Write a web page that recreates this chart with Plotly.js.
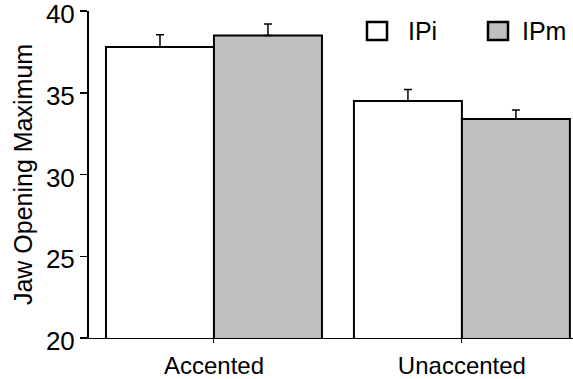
<!DOCTYPE html>
<html>
<head>
<meta charset="utf-8">
<script src="https://cdn.plot.ly/plotly-3.0.1.min.js"></script>
<style>html,body{margin:0;padding:0;background:#fff;}#chart{width:573px;height:379px;}</style>
</head>
<body>
<div id="chart"></div>
<script>
const categories = ["Accented", "Unaccented"];
const seriesNames = ["IPi", "IPm"];
const ipiValues = [37.8, 34.5];
const ipiErrors = [0.75, 0.7];
const ipmValues = [38.5, 33.4];
const ipmErrors = [0.7, 0.55];
const yTickVals = [20, 25, 30, 35, 40];

const fam = "Liberation Sans, Arial, sans-serif";
const font = {family: fam, size: 24, color: "#000"};
const yFont = {family: fam, size: 26, color: "#000"};
const titleFont = {family: fam, size: 25, color: "#000"};
const legFont = {family: fam, size: 25, color: "#000"};
const fills = ["#ffffff", "#c0c0c0"];

function barTrace(name, y, err, fill) {
  return {
    type: "bar", name: name, x: categories, y: y,
    marker: {color: fill, line: {color: "#000", width: 2}},
    error_y: {type: "data", symmetric: false, array: err, arrayminus: err.map(() => 0),
              color: "#000", thickness: 1.5, width: 4},
    showlegend: false
  };
}

const data = [
  barTrace(seriesNames[0], ipiValues, ipiErrors, fills[0]),
  barTrace(seriesNames[1], ipmValues, ipmErrors, fills[1])
];

const L = 89, R = 573, T = 11, B = 338;
const px = v => (v - L) / (R - L);
const py = v => (B - v) / (B - T);

const legendBoxes = [[367, 387], [488, 508]];
const legendText = [406, 520];
const shapes = seriesNames.map((n, i) => ({
  type: "rect", xref: "paper", yref: "paper",
  x0: px(legendBoxes[i][0]), x1: px(legendBoxes[i][1]), y0: py(40), y1: py(22),
  line: {color: "#000", width: 2.5}, fillcolor: fills[i]
}));
const annotations = seriesNames.map((n, i) => ({
  xref: "paper", yref: "paper", x: px(legendText[i]), y: py(31),
  xanchor: "left", yanchor: "middle", text: n, showarrow: false, font: legFont
}));

const layout = {
  width: 573, height: 379,
  margin: {l: L, r: 0, t: T, b: 379 - B, pad: 0},
  paper_bgcolor: "#fff", plot_bgcolor: "#fff",
  font: font,
  barmode: "group", bargap: 0.129, bargroupgap: 0,
  showlegend: false,
  xaxis: {
    type: "category", range: [-0.504, 1.448],
    showline: true, linecolor: "#000", linewidth: 1,
    ticks: "outside", ticklen: 4, tickcolor: "#000", tickwidth: 1,
    showgrid: false, zeroline: false, tickfont: font,
    ticklabelstandoff: 2
  },
  yaxis: {
    range: [20, 40], tickvals: yTickVals, ticktext: yTickVals.map(String),
    showline: true, linecolor: "#000", linewidth: 2,
    ticks: "outside", ticklen: 7, tickcolor: "#000", tickwidth: 1.5,
    showgrid: false, zeroline: false, tickfont: yFont,
    ticklabeloverflow: "allow", ticklabelshift: 3,
    title: {text: "Jaw Opening Maximum", font: titleFont, standoff: 6}
  },
  shapes: shapes,
  annotations: annotations
};

Plotly.newPlot("chart", data, layout, {staticPlot: true, displayModeBar: false});
</script>
</body>
</html>
